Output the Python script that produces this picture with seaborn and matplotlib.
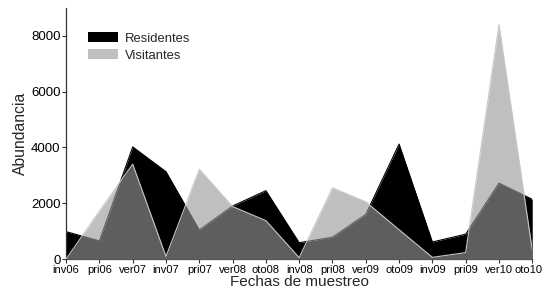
import matplotlib
matplotlib.use("Agg")
import matplotlib.pyplot as plt
import matplotlib.transforms as mtransforms
import seaborn as sns
import pandas as pd
from matplotlib.patches import Patch

# sampling dates
fechas = ["inv06", "pri06", "ver07", "inv07", "pri07", "ver08", "oto08", "inv08",
          "pri08", "ver09", "oto09", "inv09", "pri09", "ver10", "oto10"]
residentes = [980, 650, 4020, 3130, 1040, 1900, 2450, 585, 780, 1600, 4120, 610, 890, 2720, 2140]
visitantes = [0, 1720, 3400, 90, 3220, 1880, 1375, 50, 2550, 2050, 1050, 60, 230, 8400, 330]

df = pd.DataFrame({"pos": range(len(fechas)), "fecha": fechas,
                   "Residentes": residentes, "Visitantes": visitantes})

sns.set_style("ticks")
plt.rcParams["font.family"] = ["Liberation Sans", "DejaVu Sans"]

fig = plt.figure(figsize=(5.42, 2.95), dpi=100)
ax = fig.add_axes([0.122, 0.122, 0.86, 0.851])

vis_color = (0.6, 0.6, 0.6)
vis_alpha = 0.62

ax.fill_between(df["pos"], 0, df["Residentes"], color="black", lw=0, zorder=1)
sns.lineplot(data=df, x="pos", y="Residentes", color="black", lw=0.8, ax=ax, zorder=2)
ax.fill_between(df["pos"], 0, df["Visitantes"], color=vis_color, alpha=vis_alpha, lw=0, zorder=3)
sns.lineplot(data=df, x="pos", y="Visitantes", color="#c8c8c8", lw=0.8, ax=ax, zorder=4)

ax.set_xlim(0, len(fechas) - 1)
ax.set_ylim(0, 9000)
ax.set_xticks(df["pos"])
ax.set_xticklabels(fechas, fontsize=8)
ax.set_yticks([0, 2000, 4000, 6000, 8000])
ax.tick_params(axis="y", labelsize=9.5, length=3, width=0.8, pad=1, colors="#333333", labelcolor="black")
ax.tick_params(axis="x", length=3, width=0.8, pad=1.5, colors="#333333", labelcolor="black")
for side in ["left", "bottom"]:
    ax.spines[side].set_color("#333333")
    ax.spines[side].set_linewidth(0.9)
sns.despine(ax=ax)

# nudge last label so it stays inside the figure
last = ax.get_xticklabels()[-1]
last.set_transform(last.get_transform() + mtransforms.ScaledTranslation(-4 / 100, 0, fig.dpi_scale_trans))

ax.set_xlabel("Fechas de muestreo", fontsize=11, labelpad=0)
ax.set_ylabel("Abundancia", fontsize=11.3, labelpad=2)

handles = [Patch(facecolor="black", edgecolor="none", label="Residentes"),
           Patch(facecolor=vis_color, alpha=vis_alpha, edgecolor="none", label="Visitantes")]
ax.legend(handles=handles, loc="upper left", bbox_to_anchor=(0.047, 0.903), frameon=False,
          borderpad=0, borderaxespad=0, fontsize=9.4, handlelength=2.3, handleheight=0.8,
          labelspacing=0.35, handletextpad=0.5)

fig.savefig("out.png", dpi=100)
